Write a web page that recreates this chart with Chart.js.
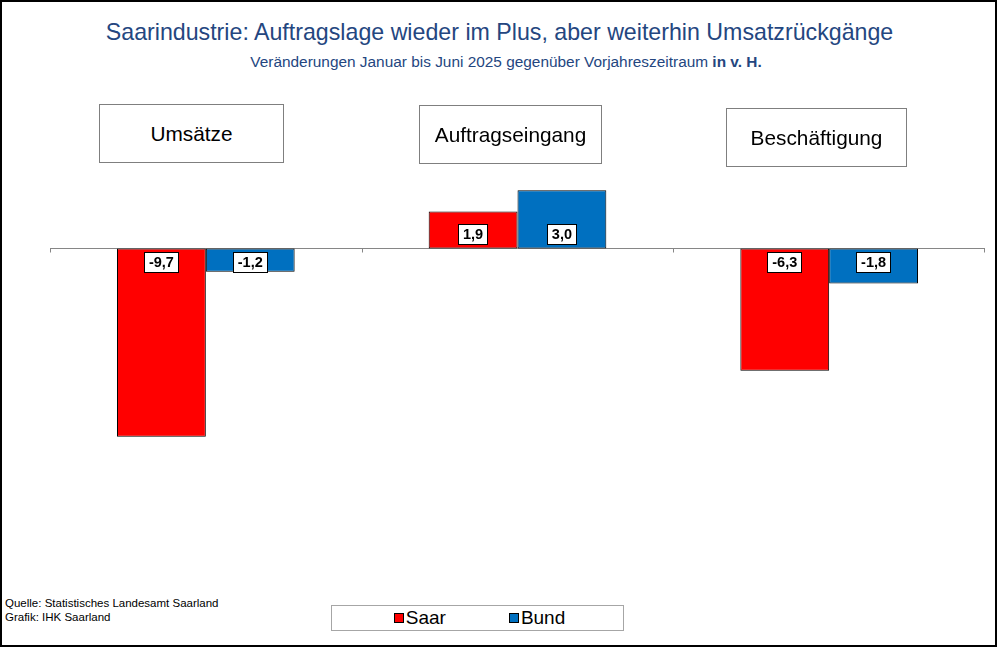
<!DOCTYPE html>
<html>
<head>
<meta charset="utf-8">
<script src="https://cdn.jsdelivr.net/npm/chart.js@4/dist/chart.umd.min.js"></script>
<style>
  html, body { margin:0; padding:0; background:#fff; }
  body { width:1000px; height:647px; position:relative; overflow:hidden; font-family:"Liberation Sans", Arial, sans-serif; }
  #frame { position:absolute; left:0; top:0; width:997px; height:647px; box-sizing:border-box; border:2px solid #000; }
  #title { position:absolute; left:0; width:999px; top:19px; text-align:center; font-size:23.2px; color:#24467f; white-space:nowrap; }
  #subtitle { position:absolute; left:0; width:1012px; top:53px; text-align:center; font-size:15.4px; color:#24467f; white-space:nowrap; }
  #subtitle b { font-weight:bold; }
  #chartWrap { position:absolute; left:50px; top:132px; width:935px; height:427px; }
  .catBox { position:absolute; box-sizing:border-box; border:1px solid #7f7f7f; background:#fff; font-size:20.8px; color:#000; display:flex; align-items:center; justify-content:center; white-space:nowrap; }
  #source { position:absolute; left:5px; top:597px; font-size:11.5px; line-height:13.5px; color:#000; }
  #legend { position:absolute; left:331px; top:605px; width:293px; height:26px; box-sizing:border-box; border:1px solid #a6a6a6; display:flex; align-items:center; justify-content:center; gap:63px; padding-left:4px; font-size:19px; }
  .lgItem { display:flex; align-items:center; }
  .lgSw { width:8px; height:8px; border:1px solid #000; margin-right:2px; }
</style>
</head>
<body>
<div id="frame"></div>
<div id="title">Saarindustrie: Auftragslage wieder im Plus, aber weiterhin Umsatzrückgänge</div>
<div id="subtitle">Veränderungen Januar bis Juni 2025 gegenüber Vorjahreszeitraum <b>in v. H.</b></div>
<div id="chartWrap"><canvas id="c" width="935" height="427"></canvas></div>
<div id="source">Quelle: Statistisches Landesamt Saarland<br>Grafik: IHK Saarland</div>
<div id="legend"></div>
<script>
// ---- data ----
const categories = ["Umsätze", "Auftragseingang", "Beschäftigung"];
const seriesNames = ["Saar", "Bund"];
const saarValues = [-9.7, 1.9, -6.3];
const bundValues = [-1.2, 3.0, -1.8];
const seriesColors = ["#ff0000", "#0070c0"];

// layout of the category caption boxes (left, top, width, height)
const catBoxLayout = [
  [99, 104, 185, 59],
  [419, 105, 183, 59],
  [726, 108, 181, 59]
];

catBoxLayout.forEach((b, i) => {
  const d = document.createElement('div');
  d.className = 'catBox';
  d.style.left = b[0] + 'px'; d.style.top = b[1] + 'px';
  d.style.width = b[2] + 'px'; d.style.height = b[3] + 'px';
  d.textContent = categories[i];
  document.body.appendChild(d);
});

const fmt = v => v.toFixed(1).replace('.', ',');

const zeroAxis = {
  id: 'zeroAxis',
  beforeDatasetsDraw(chart) {
    const { ctx, chartArea, scales: { x, y } } = chart;
    const y0 = Math.round(y.getPixelForValue(0)) + 0.5;
    const w = x.getPixelForValue(1) - x.getPixelForValue(0);
    ctx.save();
    ctx.strokeStyle = '#868686';
    ctx.lineWidth = 1;
    ctx.beginPath();
    ctx.moveTo(chartArea.left, y0);
    ctx.lineTo(chartArea.right, y0);
    for (let i = 0; i <= categories.length; i++) {
      let px = x.getPixelForValue(0) - w / 2 + i * w;
      px = Math.min(Math.max(Math.round(px) + 0.5, chartArea.left + 0.5), chartArea.right - 0.5);
      ctx.moveTo(px, y0);
      ctx.lineTo(px, y0 + 4);
    }
    ctx.stroke();
    ctx.restore();
  }
};

const valueLabels = {
  id: 'valueLabels',
  afterDatasetsDraw(chart) {
    const { ctx } = chart;
    ctx.save();
    ctx.font = 'bold 14.5px "Liberation Sans", Arial, sans-serif';
    ctx.textAlign = 'center';
    ctx.textBaseline = 'middle';
    chart.data.datasets.forEach((ds, di) => {
      const meta = chart.getDatasetMeta(di);
      meta.data.forEach((bar, i) => {
        const v = ds.data[i];
        const t = fmt(v);
        const tw = ctx.measureText(t).width;
        const bw = Math.round(tw + 10), bh = 21;
        const base = bar.base;
        const top = v < 0 ? Math.round(base + 4) : Math.round(base - 3 - bh);
        const left = Math.round(bar.x - bw / 2);
        ctx.fillStyle = '#fff';
        ctx.fillRect(left, top, bw, bh);
        ctx.strokeStyle = '#000';
        ctx.lineWidth = 1;
        ctx.strokeRect(left + 0.5, top + 0.5, bw - 1, bh - 1);
        ctx.fillStyle = '#000';
        ctx.fillText(t, bar.x, top + bh / 2 + 0.5);
      });
    });
    ctx.restore();
  }
};

const chart = new Chart(document.getElementById('c'), {
  type: 'bar',
  data: {
    labels: categories,
    datasets: [
      { label: seriesNames[0], data: saarValues, backgroundColor: seriesColors[0], borderColor: '#000', borderWidth: 1, borderSkipped: false },
      { label: seriesNames[1], data: bundValues, backgroundColor: seriesColors[1], borderColor: '#000', borderWidth: 1, borderSkipped: false }
    ]
  },
  options: {
    responsive: false,
    animation: false,
    devicePixelRatio: 1,
    layout: { padding: 0 },
    datasets: { bar: { categoryPercentage: 0.57, barPercentage: 1 } },
    scales: {
      x: { display: false },
      y: { display: false, min: -16, max: 6 }
    },
    plugins: { legend: { display: false }, tooltip: { enabled: false } }
  },
  plugins: [zeroAxis, valueLabels]
});

// HTML legend built from the datasets
const lg = document.getElementById('legend');
chart.data.datasets.forEach(ds => {
  const it = document.createElement('div');
  it.className = 'lgItem';
  const sw = document.createElement('span');
  sw.className = 'lgSw';
  sw.style.background = ds.backgroundColor;
  const tx = document.createElement('span');
  tx.textContent = ds.label;
  it.appendChild(sw); it.appendChild(tx);
  lg.appendChild(it);
});
</script>
</body>
</html>
